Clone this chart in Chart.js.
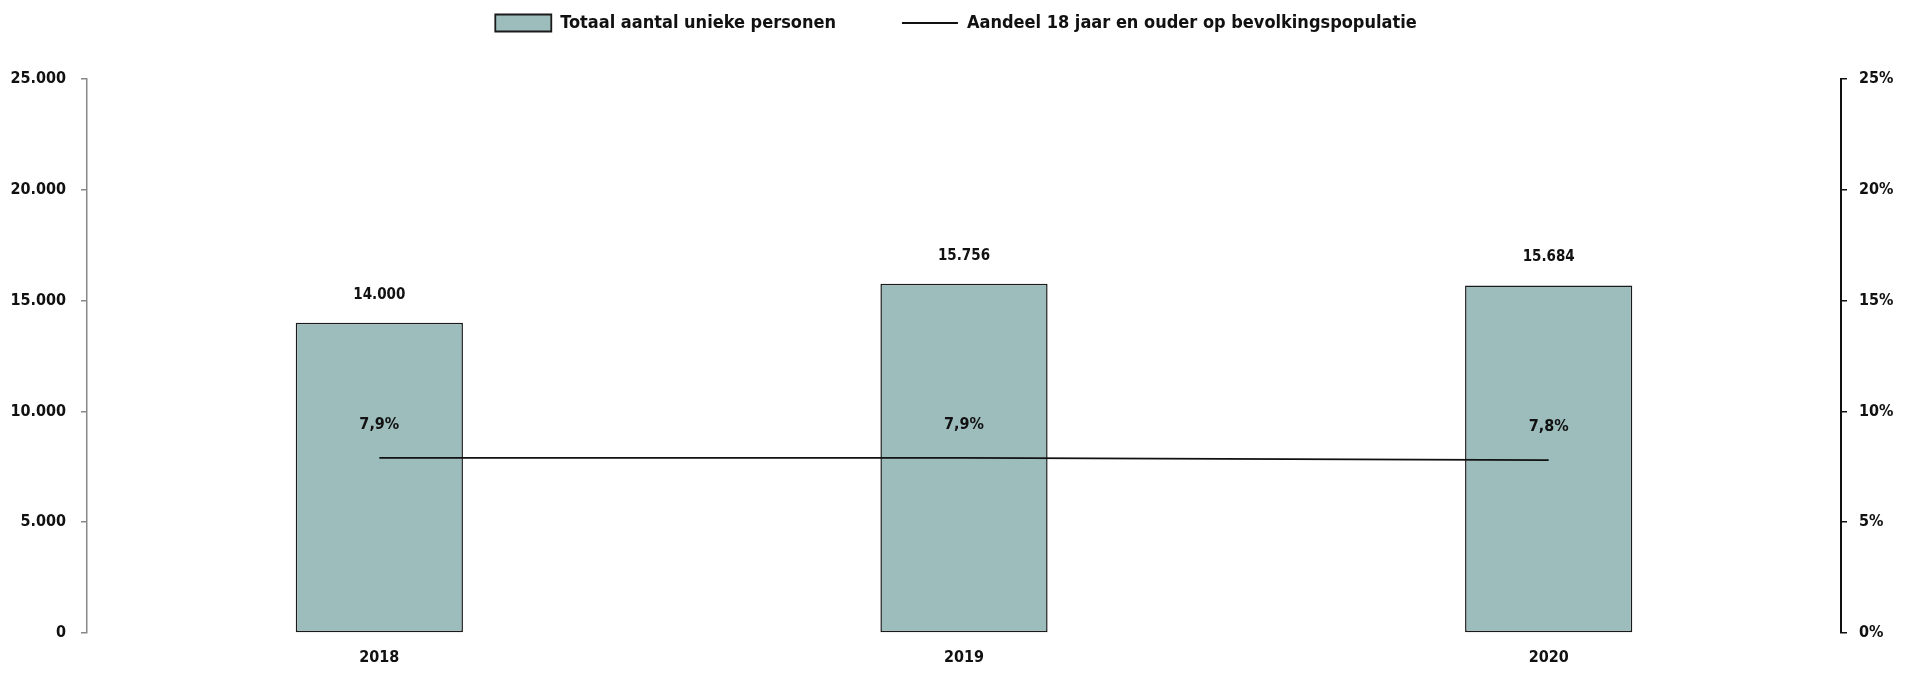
<!DOCTYPE html>
<html>
<head>
<meta charset="utf-8">
<script src="https://cdn.jsdelivr.net/npm/chart.js@4/dist/chart.umd.min.js"></script>
<style>
  html, body { margin: 0; padding: 0; background: #fff; }
  #wrap { width: 1912px; height: 673px; }
</style>
</head>
<body>
<div id="wrap"><canvas id="chart"></canvas></div>
<script>
// gegevens uit de grafiek
const jaren = ['2018', '2019', '2020'];
const uniekePersonen = [14000, 15756, 15684];
const aandeelVolwassenen = [7.9, 7.9, 7.8];
const linkerTicks = [0, 5000, 10000, 15000, 20000, 25000];
const rechterTicks = [0, 5, 10, 15, 20, 25];

const FONT = '"DejaVu Sans Condensed", "Liberation Sans Narrow", "Liberation Sans", sans-serif';
const TEXT = '#111';
const BAR_FILL = '#9dbdbc';
const LEGEND_PAD = 66;

function duizendtal(v) {
  return String(v).replace(/\B(?=(\d{3})+(?!\d))/g, '.');
}

function procent(v) {
  return String(v.toFixed(1)).replace('.', ',') + '%';
}

// legenda: grote horizontale afstand, maar vaste hoogte
const legendaHoogte = {
  id: 'legendaHoogte',
  beforeInit(chart) {
    const fit = chart.legend.fit;
    chart.legend.fit = function () {
      fit.call(this);
      this.height = 131;
    };
  }
};

// labels boven de staven en de lijnpunten
const waardeLabels = {
  id: 'waardeLabels',
  afterDatasetsDraw(chart) {
    const ctx = chart.ctx;
    ctx.save();
    ctx.fillStyle = TEXT;
    ctx.textAlign = 'center';
    ctx.textBaseline = 'middle';
    ctx.font = 'bold 15px ' + FONT;
    chart.getDatasetMeta(0).data.forEach((bar, i) => {
      ctx.fillText(duizendtal(uniekePersonen[i]), bar.x, bar.y - 28);
    });
    ctx.font = 'bold 16px ' + FONT;
    chart.getDatasetMeta(1).data.forEach((pt, i) => {
      ctx.fillText(procent(aandeelVolwassenen[i]), pt.x, pt.y - 33);
    });
    ctx.restore();
  }
};

new Chart(document.getElementById('chart'), {
  data: {
    labels: jaren,
    datasets: [
      {
        type: 'bar',
        label: 'Totaal aantal unieke personen',
        data: uniekePersonen,
        backgroundColor: BAR_FILL,
        borderColor: '#1a1a1a',
        borderWidth: 1.5,
        borderSkipped: false,
        categoryPercentage: 1,
        barPercentage: 0.286,
        yAxisID: 'y',
        order: 1,
      },
      {
        type: 'line',
        label: 'Aandeel 18 jaar en ouder op bevolkingspopulatie',
        data: aandeelVolwassenen,
        borderColor: '#111',
        borderWidth: 1.8,
        pointRadius: 0,
        fill: false,
        tension: 0,
        yAxisID: 'y1',
        order: 0,
      },
    ],
  },
  options: {
    responsive: true,
    maintainAspectRatio: false,
    animation: false,
    layout: { padding: { top: -52, bottom: 0, left: 0, right: 0 } },
    plugins: {
      tooltip: { enabled: false },
      legend: {
        position: 'top',
        align: 'center',
        labels: {
          color: TEXT,
          font: { family: FONT, size: 18, weight: 'bold' },
          boxWidth: 56,
          boxHeight: 17,
          padding: LEGEND_PAD,
          usePointStyle: true,
          pointStyleWidth: 56,
          generateLabels() {
            return [
              {
                text: 'Totaal aantal unieke personen',
                fillStyle: BAR_FILL,
                strokeStyle: '#1a1a1a',
                lineWidth: 1.8,
                pointStyle: 'rect',
                datasetIndex: 0,
                fontColor: TEXT,
              },
              {
                text: 'Aandeel 18 jaar en ouder op bevolkingspopulatie',
                fillStyle: '#111',
                strokeStyle: '#111',
                lineWidth: 1.8,
                pointStyle: 'line',
                datasetIndex: 1,
                fontColor: TEXT,
              },
            ];
          },
        },
      },
    },
    scales: {
      x: {
        grid: { display: false },
        border: { display: false },
        ticks: {
          color: TEXT,
          font: { family: FONT, size: 16, weight: 'bold' },
          padding: 7,
        },
        afterFit(scale) { scale.height = 40; },
      },
      y: {
        position: 'left',
        min: 0,
        max: 25000,
        afterBuildTicks(scale) { scale.ticks = linkerTicks.map((v) => ({ value: v })); },
        grid: {
          display: true,
          drawOnChartArea: false,
          drawTicks: true,
          tickLength: 6,
          color: '#888',
          lineWidth: 1.5,
        },
        border: { display: true, color: '#888', width: 1.5 },
        ticks: {
          color: TEXT,
          font: { family: FONT, size: 16, weight: 'bold' },
          padding: 15,
          callback: (v) => duizendtal(v),
        },
        afterFit(scale) { scale.width = 87; },
      },
      y1: {
        position: 'right',
        min: 0,
        max: 25,
        afterBuildTicks(scale) { scale.ticks = rechterTicks.map((v) => ({ value: v })); },
        grid: {
          display: true,
          drawOnChartArea: false,
          drawTicks: true,
          tickLength: 6,
          color: '#111',
          lineWidth: 1.5,
        },
        border: { display: true, color: '#111', width: 2 },
        ticks: {
          color: TEXT,
          font: { family: FONT, size: 16, weight: 'bold' },
          padding: 12,
          callback: (v) => v + '%',
        },
        afterFit(scale) { scale.width = 71; },
      },
    },
  },
  plugins: [legendaHoogte, waardeLabels],
});
</script>
</body>
</html>
